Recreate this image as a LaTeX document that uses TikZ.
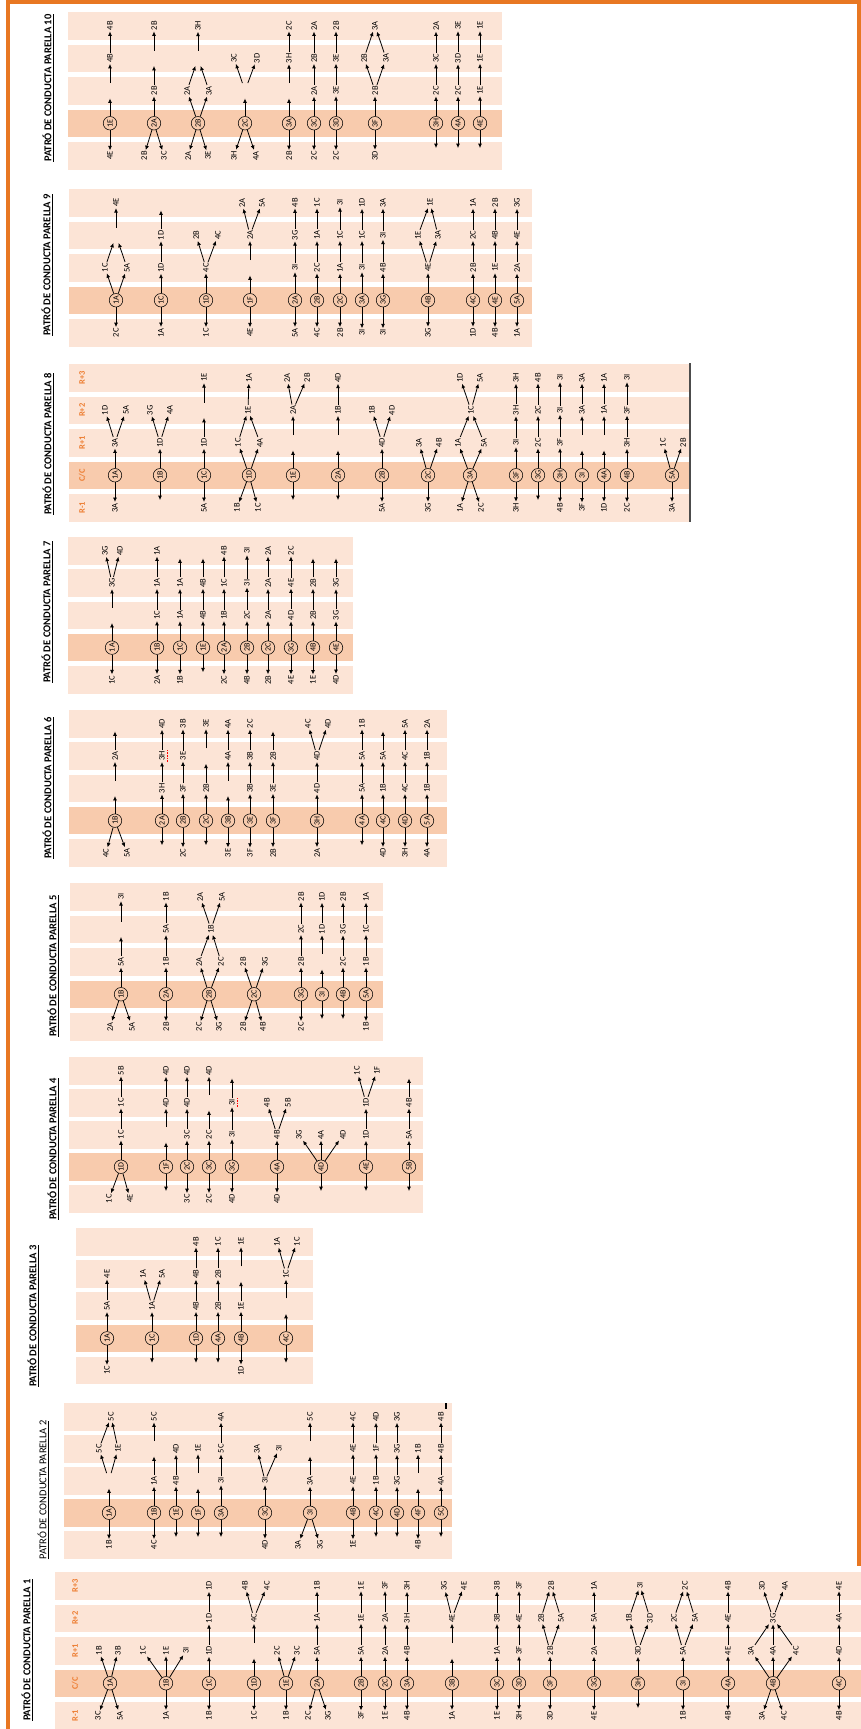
\documentclass[tikz,border=0pt]{standalone}
\usepackage{fontspec}
\usepackage{etoolbox}
\usetikzlibrary{arrows.meta}
\newfontfamily\cfont{Carlito}
\newcommand\labfont{\cfont\fontsize{8.5}{9}\selectfont}
\newcommand\ccfont{\cfont\fontsize{8}{9}\selectfont}
\definecolor{bandl}{HTML}{FCE4D6}
\definecolor{bandd}{HTML}{F8CBAD}
\definecolor{hdrc}{HTML}{ED7D31}
\definecolor{framec}{HTML}{E87722}
\tikzset{
  lab/.style={font=\labfont, inner sep=1pt, rotate=90, text=black},
  cc/.style={circle, draw=black, line width=0.55pt, font=\ccfont, inner sep=0.3pt, minimum size=13.5pt, rotate=90},
  emp/.style={inner sep=0pt, minimum width=15pt, minimum height=8pt, rotate=90},
  arr/.style={-{Latex[length=4.4pt,width=4pt]}, line width=0.8pt},
  hdr/.style={font=\cfont\bfseries\fontsize{8.5}{9}\selectfont, text=hdrc, rotate=90, inner sep=0pt},
  ttl/.style={font=\cfont\bfseries\fontsize{10.5}{12}\selectfont, rotate=90, inner sep=0pt},
  ttlr/.style={font=\cfont\fontsize{10.5}{12}\selectfont, rotate=90, inner sep=0pt},
  spell/.style={red, line width=0.7pt, dash pattern=on 0.9pt off 0.7pt},
}
\newcommand\slot[4]{\ifstrequal{#4}{o}{\node[emp] (#1) at (#2,#3) {};}{\node[lab] (#1) at (#2,#3) {#4};}}
\newcommand\br[5]{\slot{#2}{#3}{#4}{#5}\draw[arr] (#1) -- (#2);}
\newcommand\cv[6]{\slot{#1}{#2}{#3}{#4}\draw[arr] (#5) -- (#1);\draw[arr] (#6) -- (#1);}
\newcommand\row[7]{%
  \node[cc] (#1c) at (#2,\yC) {#3};%
  \ifstrequal{#4}{-}{}{\br{#1c}{#1m}{#2}{\yM}{#4}}%
  \ifstrequal{#5}{-}{}{\br{#1c}{#1o}{#2}{\yO}{#5}%
    \ifstrequal{#6}{-}{}{\br{#1o}{#1s}{#2}{\yS}{#6}%
      \ifstrequal{#7}{-}{}{\br{#1s}{#1t}{#2}{\yT}{#7}}}}}
\newcommand\setpanel[4]{%
  \pgfmathsetmacro\yT{#1+13.75}\pgfmathsetmacro\yS{#1+#2+13.75}%
  \pgfmathsetmacro\yO{#1+2*#2+13.75}\pgfmathsetmacro\yC{#1+3*#2+13.75}%
  \pgfmathsetmacro\yM{#1+4*#2+13.75}%
  \foreach \k in {0,1,2,4} {\fill[bandl] (#3,#1+\k*#2) rectangle (#4,#1+\k*#2+27.5);}%
  \fill[bandd] (#3,#1+3*#2) rectangle (#4,#1+3*#2+27.5);}
\newcommand\headers[2]{%
  \node[hdr] (#1h3) at (#2,\yT) {R+3};\node[hdr] (#1h2) at (#2,\yS) {R+2};
  \node[hdr] (#1h1) at (#2,\yO) {R+1};\node[hdr] (#1h0) at (#2,\yC) {C/C};
  \node[hdr] (#1hm) at (#2,\yM) {R-1};}
\begin{document}
\begin{tikzpicture}[x=1pt,y=-1pt]
\useasboundingbox (0,0) rectangle (861,1729);
\fill[white] (0,0) rectangle (861,1729);
\draw[framec, line width=4pt] (8,1729) -- (8,2) -- (859,2) -- (859,1566);

% ---------- Panel 1 ----------
\setpanel{1572}{32.5}{55}{861}
\headers{P1}{75}
\node[ttl] (T1) at (27,1650) {\underline{PATRÓ DE CONDUCTA PARELLA 1}};
\row{P1a}{110}{1A}{-}{-}{-}{-}
\br{P1ac}{P1am1}{98}{\yM}{3C}\br{P1ac}{P1am2}{120}{\yM}{5A}
\br{P1ac}{P1ao1}{99}{\yO}{1B}\br{P1ac}{P1ao2}{118}{\yO}{3B}
\row{P1b}{166}{1B}{1A}{-}{-}{-}
\br{P1bc}{P1bo1}{143}{\yO}{1C}\br{P1bc}{P1bo2}{166}{\yO}{1E}\br{P1bc}{P1bo3}{186}{\yO}{3I}
\row{P1c}{209}{1C}{1B}{1D}{1D}{1D}
\row{P1d}{254}{1D}{1C}{o}{4C}{-}
\br{P1ds}{P1dt1}{245}{\yT}{4B}\br{P1ds}{P1dt2}{267}{\yT}{4C}
\row{P1e}{286}{1E}{1B}{-}{-}{-}
\br{P1ec}{P1eo1}{277}{\yO}{2C}\br{P1ec}{P1eo2}{297}{\yO}{3C}
\row{P1f}{317}{2A}{-}{5A}{1A}{1B}
\br{P1fc}{P1fm1}{308}{\yM}{2C}\br{P1fc}{P1fm2}{328}{\yM}{3G}
\row{P1g}{361}{2B}{3F}{5A}{1E}{1E}
\row{P1h}{385}{2C}{1E}{2A}{2A}{3F}
\row{P1i}{407}{3A}{4B}{4B}{3H}{3H}
\row{P1j}{452}{3B}{1A}{o}{4E}{-}
\br{P1js}{P1jt1}{444}{\yT}{3G}\br{P1js}{P1jt2}{464}{\yT}{4E}
\row{P1k}{497}{3C}{1E}{1A}{3B}{3B}
\row{P1l}{519}{3D}{3H}{3F}{4E}{3F}
\row{P1m}{550}{3F}{3D}{2B}{-}{-}
\br{P1mo}{P1ms1}{541}{\yS}{2B}\br{P1mo}{P1ms2}{561}{\yS}{5A}
\cv{P1mt}{551}{\yT}{2B}{P1ms1}{P1ms2}
\row{P1n}{594}{3G}{4E}{2A}{5A}{1A}
\row{P1o}{638}{3H}{o}{3D}{-}{-}
\br{P1oo}{P1os1}{629}{\yS}{1B}\br{P1oo}{P1os2}{650}{\yS}{3D}
\cv{P1ot}{640}{\yT}{3I}{P1os1}{P1os2}
\row{P1p}{683}{3I}{1B}{5A}{-}{-}
\br{P1po}{P1ps1}{674}{\yS}{2C}\br{P1po}{P1ps2}{695}{\yS}{5A}
\cv{P1pt}{685}{\yT}{2C}{P1ps1}{P1ps2}
\row{P1q}{728}{4A}{4B}{4E}{4E}{4B}
\row{P1r}{773}{4B}{-}{-}{-}{-}
\br{P1rc}{P1rm1}{762}{\yM}{3A}\br{P1rc}{P1rm2}{784}{\yM}{4C}
\br{P1rc}{P1ro1}{751}{\yO}{3A}\br{P1rc}{P1ro2}{773}{\yO}{4A}\br{P1rc}{P1ro3}{796}{\yO}{4C}
\node[lab] (P1rs) at (773,\yS) {3G};
\draw[arr] (P1ro1) -- (P1rs);\draw[arr] (P1ro2) -- (P1rs);\draw[arr] (P1ro3) -- (P1rs);
\br{P1rs}{P1rt1}{762}{\yT}{3D}\br{P1rs}{P1rt2}{785}{\yT}{4A}
\row{P1s}{839}{4C}{4B}{4D}{4A}{4E}

% ---------- Panel 2 ----------
\setpanel{1403}{32}{64}{452}
\node[ttlr] (T2) at (43,1490) {\underline{PATRÓ DE CONDUCTA PARELLA 2}};
\row{P2a}{109}{1A}{1B}{o}{-}{-}
\br{P2ao}{P2as1}{99}{\yS}{5C}\br{P2ao}{P2as2}{118}{\yS}{1E}
\cv{P2at}{111}{\yT}{5C}{P2as1}{P2as2}
\row{P2b}{154}{1B}{4C}{1A}{o}{5C}
\row{P2c}{176}{1E}{o}{4B}{4D}{-}
\row{P2d}{198}{1F}{o}{o}{1E}{-}
\row{P2e}{221}{3A}{o}{3I}{5C}{4A}
\row{P2f}{265}{3C}{4D}{3I}{-}{-}
\br{P2fo}{P2fs1}{257}{\yS}{3A}\br{P2fo}{P2fs2}{279}{\yS}{3I}
\row{P2g}{310}{3I}{-}{3A}{o}{5C}
\br{P2gc}{P2gm1}{298}{\yM}{3A}\br{P2gc}{P2gm2}{320}{\yM}{3G}
\row{P2h}{353}{4B}{1E}{4E}{4E}{4C}
\row{P2i}{376}{4C}{o}{1B}{1F}{4D}
\row{P2j}{397}{4D}{o}{3G}{3G}{3G}
\row{P2k}{418}{4F}{4B}{o}{1B}{-}
\row{P2l}{441}{5C}{o}{4A}{4B}{4B}
\fill[black] (444.5,1403) rectangle (447,1409);

% ---------- Panel 3 ----------
\setpanel{1228}{32.2}{76}{313}
\node[ttl] (T3) at (33,1316) {\underline{PATRÓ DE CONDUCTA PARELLA 3}};
\row{P3a}{107}{1A}{1C}{5A}{4E}{-}
\row{P3b}{152}{1C}{o}{1A}{-}{-}
\br{P3bo}{P3bs1}{143}{\yS}{1A}\br{P3bo}{P3bs2}{162}{\yS}{5A}
\row{P3c}{196}{1D}{o}{4B}{4B}{4B}
\row{P3d}{218}{4A}{o}{2B}{2B}{1C}
\row{P3e}{241}{4B}{1D}{1E}{o}{1E}
\row{P3f}{286}{4C}{o}{o}{1C}{-}
\br{P3fs}{P3ft1}{277}{\yT}{1A}\br{P3fs}{P3ft2}{297}{\yT}{1C}

% ---------- Panel 4 ----------
\setpanel{1057}{32}{69}{423}
\node[ttl] (T4) at (53,1149) {\underline{PATRÓ DE CONDUCTA PARELLA 4}};
\row{P4a}{121}{1D}{-}{1C}{1C}{5B}
\br{P4ac}{P4am1}{109}{\yM}{1C}\br{P4ac}{P4am2}{130}{\yM}{4E}
\row{P4b}{166}{1F}{o}{o}{4D}{4D}
\row{P4c}{187}{2C}{3C}{3C}{4D}{4D}
\row{P4d}{209}{3C}{2C}{2C}{o}{4D}
\row{P4e}{232}{3G}{4D}{3I}{3I}{o}
\draw[spell] ([xshift=1pt]P4es.south west) -- ([xshift=1pt]P4es.south east);
\row{P4f}{277}{4A}{4D}{4B}{-}{-}
\br{P4fo}{P4fs1}{267}{\yS}{4B}\br{P4fo}{P4fs2}{288}{\yS}{5B}
\row{P4g}{321}{4D}{o}{-}{-}{-}
\br{P4gc}{P4go1}{299}{\yO}{3G}\br{P4gc}{P4go2}{321}{\yO}{4A}\br{P4gc}{P4go3}{343}{\yO}{4D}
\row{P4h}{366}{4E}{o}{1D}{1D}{-}
\br{P4hs}{P4ht1}{357}{\yT}{1C}\br{P4hs}{P4ht2}{377}{\yT}{1F}
\row{P4i}{409}{5B}{o}{5A}{4B}{o}

% ---------- Panel 5 ----------
\setpanel{883}{32.5}{70}{383}
\node[ttl] (T5) at (53,966) {\underline{PATRÓ DE CONDUCTA PARELLA 5}};
\row{P5a}{121}{1B}{-}{5A}{o}{3I}
\br{P5ac}{P5am1}{110}{\yM}{2A}\br{P5ac}{P5am2}{132}{\yM}{5A}
\row{P5b}{166}{2A}{2B}{1B}{5A}{1B}
\row{P5c}{209}{2B}{-}{-}{-}{-}
\br{P5cc}{P5cm1}{199}{\yM}{2C}\br{P5cc}{P5cm2}{219}{\yM}{3G}
\br{P5cc}{P5co1}{199}{\yO}{2A}\br{P5cc}{P5co2}{221}{\yO}{2C}
\cv{P5cs}{211}{\yS}{1B}{P5co1}{P5co2}
\br{P5cs}{P5ct1}{200}{\yT}{2A}\br{P5cs}{P5ct2}{222}{\yT}{5A}
\row{P5d}{254}{2C}{-}{-}{-}{-}
\br{P5dc}{P5dm1}{243}{\yM}{2B}\br{P5dc}{P5dm2}{263}{\yM}{4B}
\br{P5dc}{P5do1}{243}{\yO}{2B}\br{P5dc}{P5do2}{265}{\yO}{3G}
\row{P5e}{301}{3G}{2C}{2B}{2C}{2B}
\row{P5f}{322}{3I}{o}{o}{1D}{1D}
\row{P5g}{343}{4B}{o}{2C}{3G}{2B}
\row{P5h}{366}{5A}{1B}{1B}{1C}{1A}

% ---------- Panel 6 ----------
\setpanel{710}{32.3}{69}{447}
\node[ttl] (T6) at (48,788) {\underline{PATRÓ DE CONDUCTA PARELLA 6}};
\row{P6a}{115}{1B}{-}{o}{2A}{o}
\br{P6ac}{P6am1}{106}{\yM}{4C}\br{P6ac}{P6am2}{127}{\yM}{5A}
\row{P6b}{162}{2A}{o}{3H}{3H}{4D}
\draw[spell] ([xshift=1pt]P6bs.south west) -- ([xshift=1pt]P6bs.south east);
\row{P6c}{183}{2B}{2C}{3F}{3E}{3B}
\row{P6d}{206}{2C}{o}{2B}{o}{3E}
\row{P6e}{228}{3B}{3E}{o}{4A}{4A}
\row{P6f}{250}{3E}{3F}{3B}{3B}{2C}
\row{P6g}{273}{3F}{2B}{3E}{2B}{o}
\row{P6h}{317}{3H}{2A}{4D}{4D}{-}
\br{P6hs}{P6ht1}{308}{\yT}{4C}\br{P6hs}{P6ht2}{328}{\yT}{4D}
\row{P6i}{362}{4A}{o}{5A}{5A}{1B}
\row{P6j}{383}{4C}{4D}{1B}{5A}{o}
\row{P6k}{405}{4D}{3H}{4C}{4C}{5A}
\row{P6l}{427}{5A}{4A}{1B}{1B}{2A}

% ---------- Panel 7 ----------
\setpanel{537}{32.3}{68}{353}
\node[ttl] (T7) at (47,612) {\underline{PATRÓ DE CONDUCTA PARELLA 7}};
\row{P7a}{112}{1A}{1C}{o}{3G}{-}
\br{P7as}{P7at1}{105}{\yT}{3G}\br{P7as}{P7at2}{120}{\yT}{4D}
\row{P7b}{157}{1B}{2A}{1C}{1A}{1A}
\row{P7c}{180}{1C}{1B}{1A}{1A}{o}
\row{P7d}{203}{1E}{o}{4B}{4B}{o}
\row{P7e}{224}{2A}{2C}{1B}{1C}{4B}
\row{P7f}{247}{2B}{4B}{2C}{3I}{3I}
\row{P7g}{268}{2C}{2B}{2A}{2A}{2A}
\row{P7h}{291}{3G}{4E}{4D}{4E}{2C}
\row{P7i}{313}{4B}{1E}{2B}{2B}{o}
\row{P7j}{336}{4E}{4D}{3G}{3G}{o}

% ---------- Panel 8 ----------
\setpanel{364}{32.5}{69}{690}
\headers{P8}{82}
\node[ttl] (T8) at (48,444) {\underline{PATRÓ DE CONDUCTA PARELLA 8}};
\draw[black!70, line width=1.2pt] (690,363) -- (690,522);
\row{P8a}{115}{1A}{3A}{3A}{-}{-}
\br{P8ao}{P8as1}{105}{\yS}{1D}\br{P8ao}{P8as2}{126}{\yS}{5A}
\row{P8b}{160}{1B}{o}{1D}{-}{-}
\br{P8bo}{P8bs1}{150}{\yS}{3G}\br{P8bo}{P8bs2}{170}{\yS}{4A}
\row{P8c}{204}{1C}{5A}{1D}{o}{1E}
\row{P8d}{249}{1D}{-}{-}{-}{-}
\br{P8dc}{P8dm1}{237}{\yM}{1B}\br{P8dc}{P8dm2}{258}{\yM}{1C}
\br{P8dc}{P8do1}{238}{\yO}{1C}\br{P8dc}{P8do2}{260}{\yO}{4A}
\cv{P8ds}{248}{\yS}{1E}{P8do1}{P8do2}
\br{P8ds}{P8dt}{249}{\yT}{1A}
\row{P8e}{293}{1E}{o}{o}{2A}{-}
\br{P8es}{P8et1}{287}{\yT}{2A}\br{P8es}{P8et2}{307}{\yT}{2B}
\row{P8f}{338}{2A}{o}{o}{1B}{4D}
\row{P8g}{382}{2B}{5A}{4D}{-}{-}
\br{P8go}{P8gs1}{372}{\yS}{1B}\br{P8go}{P8gs2}{392}{\yS}{4D}
\row{P8h}{428}{2C}{3G}{-}{-}{-}
\br{P8hc}{P8ho1}{419}{\yO}{3A}\br{P8hc}{P8ho2}{439}{\yO}{4B}
\row{P8i}{470}{3A}{-}{-}{-}{-}
\br{P8ic}{P8im1}{460}{\yM}{1A}\br{P8ic}{P8im2}{481}{\yM}{2C}
\br{P8ic}{P8io1}{458}{\yO}{1A}\br{P8ic}{P8io2}{484}{\yO}{5A}
\cv{P8is}{471}{\yS}{1C}{P8io1}{P8io2}
\br{P8is}{P8it1}{460}{\yT}{1D}\br{P8is}{P8it2}{480}{\yT}{5A}
\row{P8j}{516}{3F}{3H}{3I}{3H}{3H}
\row{P8k}{538}{3G}{o}{2C}{2C}{4B}
\row{P8l}{560}{3H}{4B}{3F}{3I}{3I}
\row{P8m}{582}{3I}{3F}{o}{3A}{3A}
\row{P8n}{604}{4A}{1D}{o}{1A}{1A}
\row{P8o}{627}{4B}{2C}{3H}{3F}{3I}
\row{P8p}{672}{5A}{3A}{-}{-}{-}
\br{P8pc}{P8po1}{663}{\yO}{1C}\br{P8pc}{P8po2}{683}{\yO}{2B}

% ---------- Panel 9 ----------
\setpanel{189}{32.5}{69}{532}
\node[ttl] (T9) at (47,265) {\underline{PATRÓ DE CONDUCTA PARELLA 9}};
\row{P9a}{116}{1A}{2C}{-}{-}{-}
\br{P9ac}{P9ao1}{105}{\yO}{1C}\br{P9ac}{P9ao2}{127}{\yO}{5A}
\cv{P9as}{116}{\yS}{o}{P9ao1}{P9ao2}
\br{P9as}{P9at}{116}{\yT}{4E}
\row{P9b}{161}{1C}{1A}{1D}{1D}{o}
\row{P9c}{206}{1D}{1C}{4C}{-}{-}
\br{P9co}{P9cs1}{196}{\yS}{2B}\br{P9co}{P9cs2}{218}{\yS}{4C}
\row{P9d}{250}{1F}{4E}{o}{2A}{-}
\br{P9ds}{P9dt1}{242}{\yT}{2A}\br{P9ds}{P9dt2}{262}{\yT}{5A}
\row{P9e}{295}{2A}{5A}{3I}{3G}{4B}
\row{P9f}{317}{2B}{4C}{2C}{1A}{1C}
\row{P9g}{340}{2C}{2B}{1A}{1C}{3I}
\row{P9h}{362}{3A}{3I}{3I}{1C}{1D}
\row{P9i}{383}{3G}{3I}{4B}{3I}{3A}
\row{P9j}{428}{4B}{3G}{4E}{-}{-}
\br{P9jo}{P9js1}{418}{\yS}{1E}\br{P9jo}{P9js2}{438}{\yS}{3A}
\cv{P9jt}{430}{\yT}{1E}{P9js1}{P9js2}
\row{P9k}{473}{4C}{1D}{2B}{2C}{1A}
\row{P9l}{495}{4E}{4B}{1E}{4B}{2B}
\row{P9m}{517}{5A}{1A}{2A}{4E}{3G}

% ---------- Panel 10 ----------
\setpanel{12}{32.5}{68}{502}
\node[ttl] (T10) at (48,88) {\underline{PATRÓ DE CONDUCTA PARELLA 10}};
\row{P10a}{110}{1E}{4E}{o}{4B}{4B}
\row{P10b}{154}{2A}{-}{2B}{o}{2B}
\br{P10bc}{P10bm1}{144}{\yM}{2B}\br{P10bc}{P10bm2}{164}{\yM}{3C}
\row{P10c}{198}{2B}{-}{-}{-}{-}
\br{P10cc}{P10cm1}{188}{\yM}{2A}\br{P10cc}{P10cm2}{208}{\yM}{3E}
\br{P10cc}{P10co1}{187}{\yO}{2A}\br{P10cc}{P10co2}{209}{\yO}{3A}
\cv{P10cs}{198}{\yS}{o}{P10co1}{P10co2}
\br{P10cs}{P10ct}{198}{\yT}{3H}
\row{P10d}{245}{2C}{-}{o}{-}{-}
\br{P10dc}{P10dm1}{234}{\yM}{3H}\br{P10dc}{P10dm2}{256}{\yM}{4A}
\br{P10do}{P10ds1}{234}{\yS}{3C}\br{P10do}{P10ds2}{257}{\yS}{3D}
\row{P10e}{289}{3A}{2B}{o}{3H}{2C}
\row{P10f}{314}{3C}{2C}{2A}{2B}{2A}
\row{P10g}{336}{3D}{2C}{3E}{3E}{2B}
\row{P10h}{375}{3F}{3D}{2B}{-}{-}
\br{P10ho}{P10hs1}{364}{\yS}{2B}\br{P10ho}{P10hs2}{386}{\yS}{3A}
\cv{P10ht}{375}{\yT}{3A}{P10hs1}{P10hs2}
\row{P10i}{436}{3H}{o}{2C}{3C}{2A}
\row{P10j}{458}{4A}{o}{2C}{3D}{3E}
\row{P10k}{480}{4E}{o}{1E}{1E}{1E}
\end{tikzpicture}
\end{document}
